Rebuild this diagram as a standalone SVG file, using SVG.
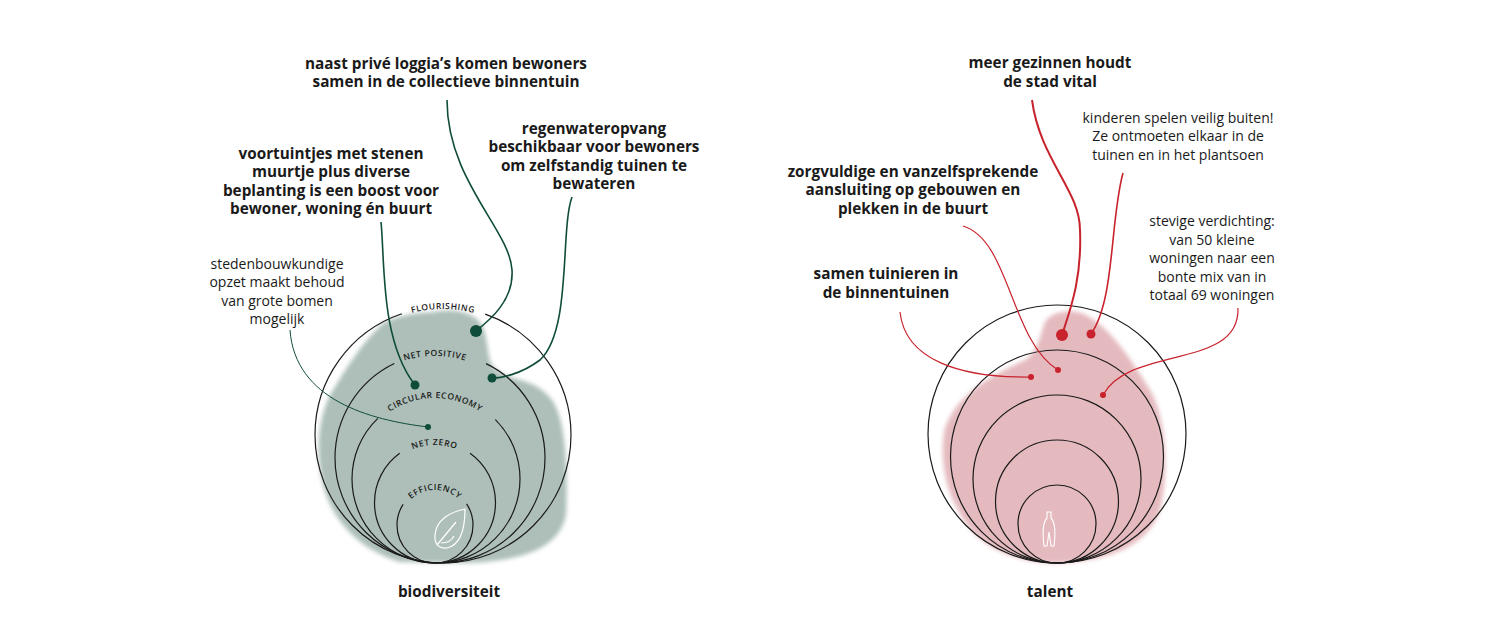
<svg xmlns="http://www.w3.org/2000/svg" width="1500" height="622" viewBox="0 0 1500 622">
<style>
text{font-family:"Open Sans","Liberation Sans",sans-serif;font-size:14px;fill:#1a1a1a;text-anchor:middle}
.b{font-weight:700;font-size:15.3px}
.r{font-weight:400}
.ring{fill:none;stroke:#1a1a1a;stroke-width:1.2}
.lbl{font-size:8.5px;font-weight:600;letter-spacing:0.6px}
.g{fill:none;stroke:#0f4d3a;stroke-width:1.6}
.red{fill:none;stroke:#c8232c;stroke-width:1.2}
</style>
<defs>
<filter id="soft"><feGaussianBlur stdDeviation="2"/></filter>
<path id="a1" d="M317,435 A126,126 0 0 1 569,435"/>
<path id="a2" d="M333,458 A102,102 0 0 1 537,458"/>
<path id="a3" d="M354,479 A81,81 0 0 1 516,479"/>
<path id="a4" d="M377,502.5 A57.5,57.5 0 0 1 492,502.5"/>
<path id="a5" d="M400,525 A35,35 0 0 1 470,525"/>
</defs>
<g id="blob-left">
<path d="M433,312 C455,308 478,312 484,330 C490,350 486,365 500,372 C515,382 535,378 552,400 C566,420 568,470 566,515 C560,545 530,560 470,563 L400,562 C360,550 330,520 322,480 C316,450 318,420 330,395 C345,370 360,345 383,323 C400,315 415,313 433,312 Z" fill="#9fb4ac" opacity="0.85" filter="url(#soft)"/>
</g>
<g id="blob-right">
<path d="M1063,312 C1090,305 1120,340 1150,390 C1168,420 1168,480 1160,510 C1150,540 1120,560 1060,563 C1010,563 975,545 958,510 C943,485 940,450 945,428 C955,400 980,380 1025,360 C1038,352 1040,335 1045,322 C1050,315 1056,313 1063,312 Z" fill="#e0aeb3" opacity="0.85" filter="url(#soft)"/>
</g>
<g id="rings-left">
<circle class="ring" cx="443" cy="435" r="128" stroke-dasharray="561 85 1000"/>
<circle class="ring" cx="440" cy="458" r="105" stroke-dasharray="447 95 1000"/>
<circle class="ring" cx="436" cy="479" r="84" stroke-dasharray="331 130 1000"/>
<circle class="ring" cx="435" cy="502.5" r="60.5" stroke-dasharray="247 75 1000"/>
<circle class="ring" cx="435" cy="525" r="38" stroke-dasharray="141 75 1000"/>
<text class="lbl"><textPath href="#a1" startOffset="50%">FLOURISHING</textPath></text>
<text class="lbl"><textPath href="#a2" startOffset="50%">NET POSITIVE</textPath></text>
<text class="lbl"><textPath href="#a3" startOffset="50%">CIRCULAR ECONOMY</textPath></text>
<text class="lbl"><textPath href="#a4" startOffset="50%">NET ZERO</textPath></text>
<text class="lbl"><textPath href="#a5" startOffset="50%">EFFICIENCY</textPath></text>
<path d="M465,509 C450,512 436,520 435,535 C434,545 440,549 447,548 C460,545 465,530 465,509 Z M437,545 L456,522 M441,543 C448,543 452,540 454,536" fill="none" stroke="#fff" stroke-width="1.2"/>
</g>
<g id="rings-right">
<circle class="ring" cx="1057" cy="434" r="129"/>
<circle class="ring" cx="1057" cy="456.5" r="106.5"/>
<circle class="ring" cx="1057" cy="479" r="84"/>
<circle class="ring" cx="1057" cy="501.5" r="61.5"/>
<circle class="ring" cx="1057" cy="524" r="39"/>
<path d="M1047,512 L1047,518 C1043,522 1042,530 1044,546 L1047,546 L1049,532 L1051,546 L1054,546 C1056,530 1055,522 1051,518 L1051,512 Z" fill="none" stroke="#fff" stroke-width="1.1"/>
</g>
<g id="connectors">
<path class="g" d="M447,100 C447,180 510,230 512,270 C514,300 490,320 476,331"/>
<circle cx="476" cy="331" r="6" fill="#0f4d3a"/>
<path class="g" d="M572,197 C560,230 572,330 540,360 C520,375 500,378 492,378"/>
<circle cx="492" cy="378" r="4.5" fill="#0f4d3a"/>
<path class="g" d="M381,222 C385,260 380,340 415,385"/>
<circle cx="415" cy="385" r="4.5" fill="#0f4d3a"/>
<path class="g" style="stroke-width:1" d="M290,330 C295,400 370,420 428,427"/>
<circle cx="428" cy="427" r="3" fill="#0f4d3a"/>
<path class="red" style="stroke-width:2" d="M1032,100 C1040,160 1080,190 1080,230 C1082,280 1070,310 1062,335"/>
<circle cx="1062" cy="335" r="6" fill="#c8232c"/>
<path class="red" style="stroke-width:1.6" d="M1123,173 C1110,220 1115,300 1091,334"/>
<circle cx="1091" cy="334" r="4.5" fill="#c8232c"/>
<path class="red" d="M963,226 C1010,240 1010,340 1058,370"/>
<circle cx="1058" cy="370" r="3" fill="#c8232c"/>
<path class="red" d="M900,312 C905,360 960,378 1031,377"/>
<circle cx="1031" cy="377" r="3" fill="#c8232c"/>
<path class="red" d="M1238,308 C1240,370 1130,345 1103,395"/>
<circle cx="1103" cy="395" r="3" fill="#c8232c"/>
</g>
<g id="labels-left">
<text class="b" x="446" y="69">naast privé loggia’s komen bewoners</text>
<text class="b" x="446" y="87">samen in de collectieve binnentuin</text>
<text class="b" x="594" y="134">regenwateropvang</text>
<text class="b" x="594" y="152">beschikbaar voor bewoners</text>
<text class="b" x="594" y="171">om zelfstandig tuinen te</text>
<text class="b" x="594" y="189">bewateren</text>
<text class="b" x="331" y="159">voortuintjes met stenen</text>
<text class="b" x="331" y="177">muurtje plus diverse</text>
<text class="b" x="331" y="196">beplanting is een boost voor</text>
<text class="b" x="331" y="214">bewoner, woning én buurt</text>
<text class="r" x="277" y="269">stedenbouwkundige</text>
<text class="r" x="277" y="287">opzet maakt behoud</text>
<text class="r" x="277" y="306">van grote bomen</text>
<text class="r" x="277" y="324">mogelijk</text>
<text class="b" x="449" y="597">biodiversiteit</text>
</g>
<g id="labels-right">
<text class="b" x="1050" y="68">meer gezinnen houdt</text>
<text class="b" x="1050" y="87">de stad vital</text>
<text class="r" x="1178" y="123">kinderen spelen veilig buiten!</text>
<text class="r" x="1178" y="141">Ze ontmoeten elkaar in de</text>
<text class="r" x="1178" y="160">tuinen en in het plantsoen</text>
<text class="b" x="913" y="177">zorgvuldige en vanzelfsprekende</text>
<text class="b" x="913" y="195">aansluiting op gebouwen en</text>
<text class="b" x="913" y="214">plekken in de buurt</text>
<text class="r" x="1212" y="226">stevige verdichting:</text>
<text class="r" x="1212" y="245">van 50 kleine</text>
<text class="r" x="1212" y="263">woningen naar een</text>
<text class="r" x="1212" y="282">bonte mix van in</text>
<text class="r" x="1212" y="300">totaal 69 woningen</text>
<text class="b" x="886" y="279">samen tuinieren in</text>
<text class="b" x="886" y="298">de binnentuinen</text>
<text class="b" x="1050" y="597">talent</text>
</g>
</svg>
